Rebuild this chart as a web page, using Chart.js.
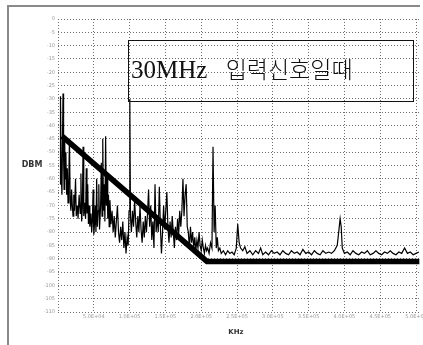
<!DOCTYPE html>
<html>
<head>
<meta charset="utf-8">
<script src="https://cdn.jsdelivr.net/npm/chart.js@4/dist/chart.umd.min.js"></script>
<style>
  html, body { margin: 0; padding: 0; background: #fff; }
  #wrap { position: relative; width: 423px; height: 345px; }
  #title-box {
    position: absolute; left: 128px; top: 40px; width: 286px; height: 62px;
    box-sizing: border-box; border: 1.5px solid #111; pointer-events: none;
  }
  #title-text {
    position: absolute; left: 2px; top: 15px; white-space: nowrap;
    font-family: "Liberation Serif", "Noto Sans CJK KR", serif;
    font-size: 25px; line-height: 25px; color: #111; word-spacing: 12px;
  }
  #title-text .ko { font-family: "Noto Sans CJK KR", sans-serif; font-size: 23px; font-weight: 300; }
</style>
</head>
<body>
<div id="wrap">
  <canvas id="spec"></canvas>
  <div id="title-box"><div id="title-text">30MHz <span class="ko">입력신호일때</span></div></div>
</div>
<script>
// axis setup (KHz / dBm)
const xTicks = [50, 100, 150, 200, 250, 300, 350, 400, 450, 500];
const yMin = -110, yMax = 0, yStep = 5;

// thick reference line: slope then flat floor
const maskKHz = [5.6, 208, 505];
const maskDbm = [-44, -91, -91];

// measured spectrum trace [KHz, dBm]
const noiseTrace = [
  [3,-62],[3.5,-29],[4.5,-58],[5.5,-66],[6.5,-40],[7,-28],[7.8,-52],[8.5,-64],[9.3,-44],[10,-60],
  [11,-50],[12,-66],[13,-56],[14,-69],[15,-62],[16,-45],[17,-68],[18,-72],[19,-64],[20,-70],
  [21,-74],[22,-66],[23,-72],[24.5,-60],[25.5,-74],[27,-70],[28,-75],[29.5,-66],[31,-73],[32,-58],
  [33,-76],[34,-71],[35,-48],[36,-74],[37.5,-69],[38.5,-75],[39.5,-56],[40.5,-73],[41.5,-62],[42.5,-77],
  [43.5,-70],[44.5,-78],[46,-73],[47,-80],[48,-76],[49,-64],[50,-81],[51,-77],[52,-70],[53,-80],
  [54,-60],[55,-78],[56,-72],[57,-62],[58,-79],[59.5,-70],[60.5,-54],[61.5,-74],[62.5,-45],[63.5,-72],
  [64.5,-62],[65.5,-76],[66.5,-44],[67.5,-70],[68.5,-58],[69.5,-75],[70.5,-66],[71.5,-78],[72.5,-68],[74,-77],
  [75.5,-72],[77,-80],[78.5,-74],[80,-82],[81.5,-76],[83,-70],[84.5,-80],[86,-84],[87.5,-78],[89,-83],
  [90.5,-76],[92,-86],[93.5,-80],[95,-88],[96.5,-82],[98,-85],[99.2,-72],[100.3,-30],[101.2,-74],[102.5,-80],
  [104,-72],[105.5,-78],[107,-68],[108.5,-76],[110,-82],[111.5,-74],[113,-80],[114.5,-70],[116,-79],[117.5,-84],
  [119,-76],[120.5,-82],[122,-74],[123.5,-80],[125,-73],[126.5,-64],[128,-78],[129.5,-70],[131,-83],[132.5,-76],
  [134,-86],[135.5,-62],[137,-80],[138.5,-74],[140,-80],[141.5,-63],[143,-78],[144.5,-88],[146,-80],[147.5,-70],
  [149,-79],[150.5,-72],[152,-65],[153.5,-78],[155,-84],[156.5,-76],[158,-82],[159.5,-74],[161,-80],[162.5,-86],
  [164,-78],[165.5,-83],[167,-75],[168.5,-81],[170,-72],[171.5,-78],[173,-72],[174.5,-60],[176,-74],[177.5,-66],
  [179,-62],[180.5,-78],[182,-80],[183.5,-86],[185,-78],[186.5,-84],[188,-80],[189.5,-86],[191,-82],[192.5,-87],
  [194,-83],[195.5,-86],[197,-80],[198.5,-85],[200,-87],[201.5,-83],[203,-86],[204.5,-88],[206,-85],[207.5,-87],
  [209,-86],[211,-88],[213,-84],[215,-86],[216.5,-48],[218,-80],[219.5,-70],[221,-86],[222.5,-82],[224,-87],
  [226,-86],[228,-88],[231,-87],[234,-88.5],[237,-87],[240,-88],[243,-87.5],[246,-88.5],[249,-86],[251,-77],
  [253,-84],[255,-86],[258,-87],[261,-85.5],[264,-88],[268,-87],[272,-88.5],[276,-87],[280,-88],[283,-86],
  [286,-88.5],[290,-87.5],[294,-88.5],[298,-87],[302,-88],[306,-87.5],[310,-88.5],[314,-87],[318,-88],[322,-88.5],
  [326,-87],[330,-88],[334,-87.5],[338,-88.5],[342,-86.5],[346,-88],[350,-87.5],[354,-88.5],[358,-87],[362,-88],
  [366,-88.5],[370,-87],[374,-88],[378,-87.5],[382,-88],[386,-87],[390,-85],[392,-80],[394,-75],[395.5,-78],
  [397,-86],[400,-88],[404,-87.5],[408,-88.5],[412,-87],[416,-88],[420,-88.5],[424,-87.5],[428,-88],[432,-87],
  [436,-88.5],[440,-88],[444,-87],[448,-88],[452,-88.5],[456,-87.5],[460,-88],[464,-87],[468,-88],[472,-88.5],
  [476,-87.5],[480,-88],[484,-86],[488,-88],[492,-87.5],[496,-88.5],[500,-88],[504,-87.5]
];

// scanned-page frame + horizontal axis captions
const pageDecor = {
  id: 'pageDecor',
  beforeDraw(chart) {
    const ctx = chart.ctx;
    ctx.save();
    ctx.strokeStyle = '#8a8a8a';
    ctx.lineWidth = 2;
    ctx.beginPath();
    ctx.moveTo(8, 345); ctx.lineTo(8, 6); ctx.lineTo(420, 6);
    ctx.stroke();
    ctx.restore();
  },
  afterDraw(chart) {
    const ctx = chart.ctx;
    ctx.save();
    ctx.fillStyle = '#333';
    ctx.font = 'bold 8px "DejaVu Sans"';
    ctx.textAlign = 'center';
    ctx.textBaseline = 'middle';
    ctx.fillText('DBM', 32, 165);
    ctx.font = 'bold 7px "DejaVu Sans"';
    ctx.fillText('KHz', 236, 332);
    ctx.restore();
  }
};

const noPad = s => { s.paddingLeft = 0; s.paddingRight = 0; s.paddingTop = 0; s.paddingBottom = 0; };

new Chart(document.getElementById('spec'), {
  type: 'line',
  data: {
    datasets: [
      {
        label: 'mask',
        data: maskKHz.map((x, i) => ({ x, y: maskDbm[i] })),
        borderColor: '#000',
        borderWidth: 5.5,
        pointRadius: 0,
        order: 0
      },
      {
        label: 'trace',
        data: noiseTrace.map(p => ({ x: p[0], y: p[1] })),
        borderColor: '#000',
        borderWidth: 1.2,
        pointRadius: 0,
        order: 1
      }
    ]
  },
  options: {
    responsive: true,
    maintainAspectRatio: false,
    animation: false,
    layout: { padding: { left: 0, top: 19, right: 3.4, bottom: 0 } },
    plugins: { legend: { display: false }, tooltip: { enabled: false } },
    scales: {
      x: {
        type: 'linear', min: 0, max: 505,
        afterBuildTicks: s => { s.ticks = [0, ...xTicks].map(v => ({ value: v })); },
        afterFit: s => { s.height = 33; noPad(s); },
        grid: { color: '#6e6e6e', lineWidth: 1, drawTicks: false },
        border: { display: false, dash: [1, 2] },
        ticks: {
          color: '#999', padding: 2, maxRotation: 0, autoSkip: false,
          font: { family: 'DejaVu Sans', size: 5 },
          callback: v => v === 0 ? '' : (v * 1000).toExponential(1).replace('e+', 'E+0')
        }
      },
      y: {
        min: yMin, max: yMax,
        afterFit: s => { s.width = 58; noPad(s); },
        grid: { color: '#6e6e6e', lineWidth: 1, drawTicks: false },
        border: { display: false, dash: [1, 2] },
        ticks: {
          stepSize: yStep, color: '#999', padding: 3, autoSkip: false,
          font: { family: 'DejaVu Sans', size: 5 }
        }
      }
    }
  },
  plugins: [pageDecor]
});
</script>
</body>
</html>
